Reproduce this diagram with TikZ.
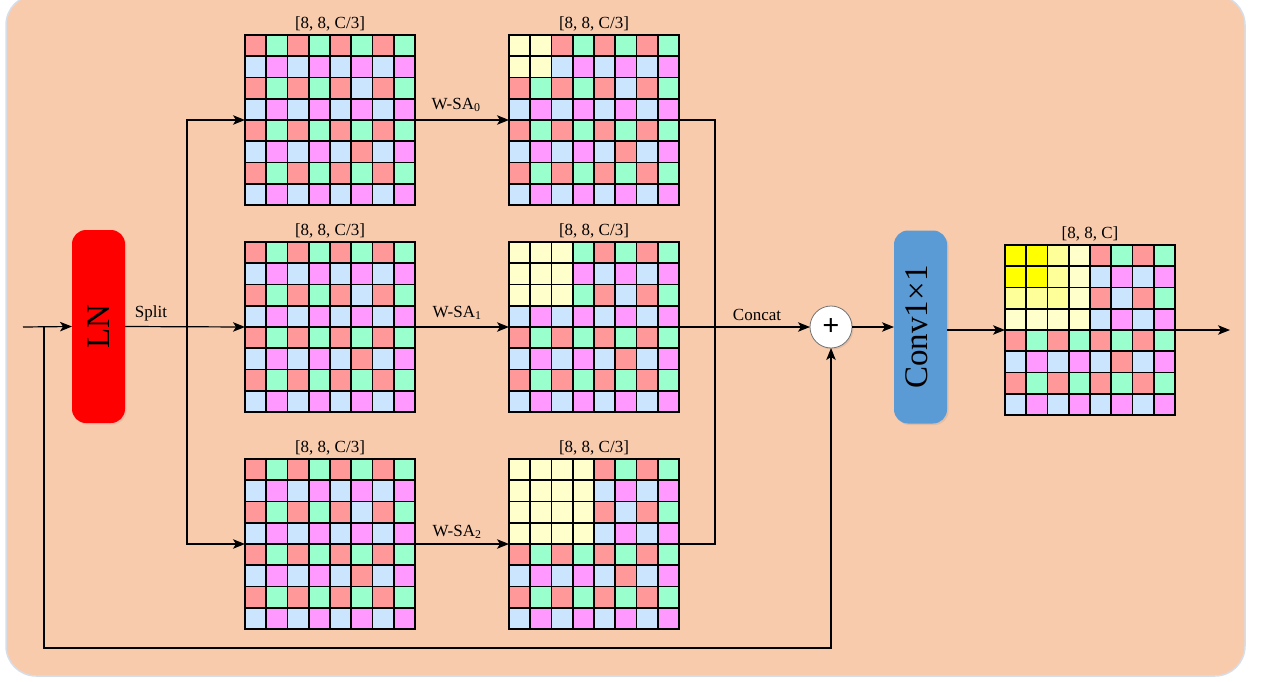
\documentclass[tikz,border=0pt]{standalone}
\usepackage{fontspec}
\usepackage{graphicx}
\setmainfont{Liberation Serif}
\usetikzlibrary{arrows.meta,shadows}

\definecolor{bgpeach}{HTML}{F8CBAD}
\definecolor{bgedge}{HTML}{D6DEEA}
\definecolor{cred}{HTML}{FF9999}
\definecolor{cgreen}{HTML}{99FFCC}
\definecolor{cblue}{HTML}{CCE5FF}
\definecolor{cmag}{HTML}{FF99FF}
\definecolor{cyel}{HTML}{FFFFCC}
\definecolor{cyelmid}{HTML}{FFFF99}
\definecolor{cyelhi}{HTML}{FFFF00}
\definecolor{lnred}{HTML}{FF0000}
\definecolor{convblue}{HTML}{5B9BD5}

\newcommand\cellside{21.25}

% colour the 8x8 cells of a feature map; #2 = side of the yellow top-left block
\newcommand\fillcells[2]{%
  \begin{scope}[shift={(#1.north west)}]
    \foreach \rr in {0,...,7}{
      \foreach \cl in {0,...,7}{
        \ifodd\rr
          \ifodd\cl \def\cc{cmag}\else \def\cc{cblue}\fi
        \else
          \ifodd\cl \def\cc{cgreen}\else \def\cc{cred}\fi
        \fi
        \ifnum\rr=2 \ifnum\cl=5 \def\cc{cblue}\fi\fi
        \ifnum\rr=5 \ifnum\cl=5 \def\cc{cred}\fi\fi
        \ifnum\rr<#2 \ifnum\cl<#2 \def\cc{cyel}\fi\fi
        \fill[\cc] ({\cl*\cellside},{\rr*\cellside}) rectangle ++(\cellside,\cellside);
      }
    }
  \end{scope}}

% black lattice over a feature map
\newcommand\gridlines[1]{%
  \begin{scope}[shift={(#1.north west)}]
    \foreach \i in {0,...,8}{
      \draw[latline] ({\i*\cellside},0) -- ++(0,170);
      \draw[latline] (0,{\i*\cellside}) -- ++(170,0);
    }
  \end{scope}}

\tikzset{
  gridbox/.style={minimum width=170pt, minimum height=170pt, inner sep=0pt, outer sep=0pt},
  latline/.style={line width=1.6pt, black, line cap=rect},
  lbl/.style={font=\fontsize{17}{20}\selectfont, inner sep=0pt},
  conn/.style={draw=black, line width=1.2pt},
  arr/.style={conn, -{Stealth[length=12pt,width=9.5pt,inset=3pt]}},
  tallbox/.style={rounded corners=14pt, minimum width=53pt, minimum height=193pt,
    inner sep=0pt, outer sep=0pt,
    drop shadow={opacity=0.18, shadow xshift=1.5pt, shadow yshift=-1.5pt},
    font=\fontsize{33}{36}\selectfont},
  plusnode/.style={circle, fill=white, draw=black!55, line width=0.8pt,
    minimum size=42pt, inner sep=0pt, outer sep=0pt,
    drop shadow={opacity=0.18, shadow xshift=1.5pt, shadow yshift=-1.5pt},
    font=\fontsize{30}{32}\selectfont\bfseries},
}

\begin{document}
\begin{tikzpicture}[x=1pt, y=-1pt]
  \useasboundingbox (0,0) rectangle (1261,682);

  % container
  \filldraw[fill=bgpeach, draw=bgedge, line width=1.5pt, rounded corners=30pt]
    (6,-5) rectangle (1245,676);

  % blocks
  \node[tallbox, fill=lnred] (ln) at (98.5,326.5) {\rotatebox{90}{LN}};
  \node[tallbox, fill=convblue] (conv) at (920.5,327)
    {\rotatebox{90}{Conv1×1\vphantom{g}}};
  \node[plusnode] (plus) at (831,327) {+};

  % feature maps
  \node[gridbox] (g1) at (330,120) {};
  \node[gridbox] (g2) at (594,120) {};
  \node[gridbox] (g3) at (330,327) {};
  \node[gridbox] (g4) at (594,327) {};
  \node[gridbox] (g5) at (330,544) {};
  \node[gridbox] (g6) at (594,544) {};
  \node[gridbox] (g7) at (1090,330) {};

  \fillcells{g1}{0}
  \fillcells{g3}{0}
  \fillcells{g5}{0}
  \fillcells{g2}{2}
  \fillcells{g4}{3}
  \fillcells{g6}{4}
  \fillcells{g7}{4}
  \begin{scope}[shift={(g7.north west)}]
    \foreach \rr/\cl in {0/2,1/2,2/0,2/1,2/2}
      \fill[cyelmid] ({\cl*\cellside},{\rr*\cellside}) rectangle ++(\cellside,\cellside);
    \foreach \rr/\cl in {0/0,0/1,1/0,1/1}
      \fill[cyelhi] ({\cl*\cellside},{\rr*\cellside}) rectangle ++(\cellside,\cellside);
  \end{scope}
  \foreach \g in {g1,g2,g3,g4,g5,g6,g7}{\gridlines{\g}}

  % shape labels
  \node[lbl, above=4pt] (s1) at (g1.north) {[8, 8, C/3]};
  \node[lbl, above=4pt] (s2) at (g2.north) {[8, 8, C/3]};
  \node[lbl, above=4pt] (s3) at (g3.north) {[8, 8, C/3]};
  \node[lbl, above=4pt] (s4) at (g4.north) {[8, 8, C/3]};
  \node[lbl, above=4pt] (s5) at (g5.north) {[8, 8, C/3]};
  \node[lbl, above=4pt] (s6) at (g6.north) {[8, 8, C/3]};
  \node[lbl, above=4pt] (s7) at (g7.north) {[8, 8, C]};

  % junction points
  \coordinate (in) at (23,327);
  \coordinate (skip) at (44,327);
  \coordinate (skipbot) at (44,648);
  \coordinate (sp) at (187,327);
  \coordinate (cc) at (715,327);
  \coordinate (out) at (1230,330);

  % connectors
  \draw[arr] (in) -- (ln.west);
  \draw[arr] (skip) -- (skipbot) -| (plus.south);
  \draw[arr] (ln.east) -- (g3.west);
  \draw[arr] (sp) |- (g1.west);
  \draw[arr] (sp) |- (g5.west);
  \draw[arr] (g1.east) -- (g2.west);
  \draw[arr] (g3.east) -- (g4.west);
  \draw[arr] (g5.east) -- (g6.west);
  \draw[conn] (g2.east) -| (cc);
  \draw[conn] (g6.east) -| (cc);
  \draw[arr] (g4.east) -- (plus.west);
  \draw[arr] (plus.east) -- (conv.west);
  \draw[arr] (conv.east |- g7.west) -- (g7.west);
  \draw[arr] (g7.east) -- (out);

  % connector labels
  \node[lbl] (tsplit) at (151,313) {Split};
  \node[lbl] (tws0) at (456,105) {W-SA\textsubscript{0}};
  \node[lbl] (tws1) at (457,313) {W-SA\textsubscript{1}};
  \node[lbl] (tws2) at (457,532) {W-SA\textsubscript{2}};
  \node[lbl] (tcat) at (757,315) {Concat};
\end{tikzpicture}
\end{document}
